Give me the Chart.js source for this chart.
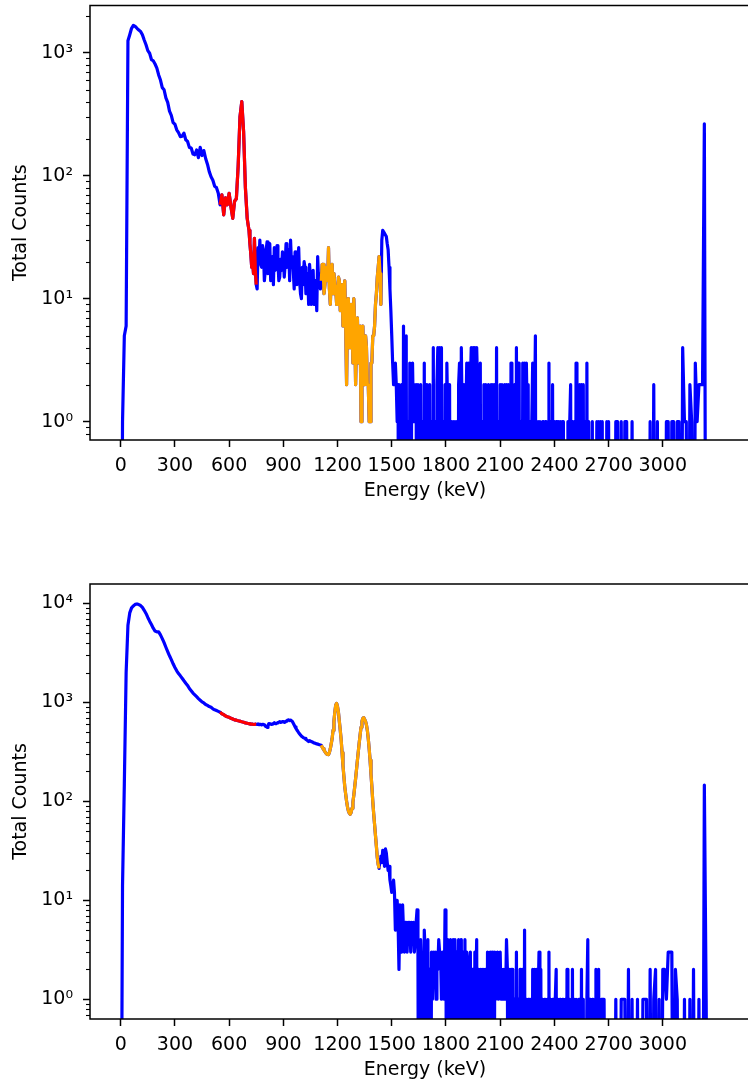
<!DOCTYPE html>
<html>
<head>
<meta charset="utf-8">
<script src="https://cdn.jsdelivr.net/npm/chart.js@4.4.1/dist/chart.umd.min.js"></script>
<style>
  html, body { margin: 0; padding: 0; background: #fff; overflow: hidden; }
  body { width: 748px; height: 1083px; position: relative; }
  canvas { position: absolute; left: 0; }
  #spectrumUpper { top: 0; }
  #spectrumLower { top: 540px; }
</style>
</head>
<body>
<canvas id="spectrumUpper" width="760" height="540"></canvas>
<canvas id="spectrumLower" width="760" height="543"></canvas>
<script>
// Energy bin centres (keV), shared by both spectra: 10 keV below 700, 5 keV up to 2700, 10 keV above
const energyKeV = [
  0, 10, 20, 30, 40, 50, 60, 70, 80, 90,
  100, 110, 120, 130, 140, 150, 160, 170, 180, 190,
  200, 210, 220, 230, 240, 250, 260, 270, 280, 290,
  300, 310, 320, 330, 340, 350, 360, 370, 380, 390,
  400, 410, 420, 430, 440, 450, 460, 470, 480, 490,
  500, 510, 520, 530, 540, 550, 560, 570, 580, 590,
  600, 610, 620, 630, 640, 650, 660, 670, 680, 690,
  700, 705, 710, 715, 720, 725, 730, 735, 740, 745,
  750, 755, 760, 765, 770, 775, 780, 785, 790, 795,
  800, 805, 810, 815, 820, 825, 830, 835, 840, 845,
  850, 855, 860, 865, 870, 875, 880, 885, 890, 895,
  900, 905, 910, 915, 920, 925, 930, 935, 940, 945,
  950, 955, 960, 965, 970, 975, 980, 985, 990, 995,
  1000, 1005, 1010, 1015, 1020, 1025, 1030, 1035, 1040, 1045,
  1050, 1055, 1060, 1065, 1070, 1075, 1080, 1085, 1090, 1095,
  1100, 1105, 1110, 1115, 1120, 1125, 1130, 1135, 1140, 1145,
  1150, 1155, 1160, 1165, 1170, 1175, 1180, 1185, 1190, 1195,
  1200, 1205, 1210, 1215, 1220, 1225, 1230, 1235, 1240, 1245,
  1250, 1255, 1260, 1265, 1270, 1275, 1280, 1285, 1290, 1295,
  1300, 1305, 1310, 1315, 1320, 1325, 1330, 1335, 1340, 1345,
  1350, 1355, 1360, 1365, 1370, 1375, 1380, 1385, 1390, 1395,
  1400, 1405, 1410, 1415, 1420, 1425, 1430, 1435, 1440, 1445,
  1450, 1455, 1460, 1465, 1470, 1475, 1480, 1485, 1490, 1495,
  1500, 1505, 1510, 1515, 1520, 1525, 1530, 1535, 1540, 1545,
  1550, 1555, 1560, 1565, 1570, 1575, 1580, 1585, 1590, 1595,
  1600, 1605, 1610, 1615, 1620, 1625, 1630, 1635, 1640, 1645,
  1650, 1655, 1660, 1665, 1670, 1675, 1680, 1685, 1690, 1695,
  1700, 1705, 1710, 1715, 1720, 1725, 1730, 1735, 1740, 1745,
  1750, 1755, 1760, 1765, 1770, 1775, 1780, 1785, 1790, 1795,
  1800, 1805, 1810, 1815, 1820, 1825, 1830, 1835, 1840, 1845,
  1850, 1855, 1860, 1865, 1870, 1875, 1880, 1885, 1890, 1895,
  1900, 1905, 1910, 1915, 1920, 1925, 1930, 1935, 1940, 1945,
  1950, 1955, 1960, 1965, 1970, 1975, 1980, 1985, 1990, 1995,
  2000, 2005, 2010, 2015, 2020, 2025, 2030, 2035, 2040, 2045,
  2050, 2055, 2060, 2065, 2070, 2075, 2080, 2085, 2090, 2095,
  2100, 2105, 2110, 2115, 2120, 2125, 2130, 2135, 2140, 2145,
  2150, 2155, 2160, 2165, 2170, 2175, 2180, 2185, 2190, 2195,
  2200, 2205, 2210, 2215, 2220, 2225, 2230, 2235, 2240, 2245,
  2250, 2255, 2260, 2265, 2270, 2275, 2280, 2285, 2290, 2295,
  2300, 2305, 2310, 2315, 2320, 2325, 2330, 2335, 2340, 2345,
  2350, 2355, 2360, 2365, 2370, 2375, 2380, 2385, 2390, 2395,
  2400, 2405, 2410, 2415, 2420, 2425, 2430, 2435, 2440, 2445,
  2450, 2455, 2460, 2465, 2470, 2475, 2480, 2485, 2490, 2495,
  2500, 2505, 2510, 2515, 2520, 2525, 2530, 2535, 2540, 2545,
  2550, 2555, 2560, 2565, 2570, 2575, 2580, 2585, 2590, 2595,
  2600, 2605, 2610, 2615, 2620, 2625, 2630, 2635, 2640, 2645,
  2650, 2655, 2660, 2665, 2670, 2675, 2680, 2685, 2690, 2695,
  2700, 2710, 2720, 2730, 2740, 2750, 2760, 2770, 2780, 2790,
  2800, 2810, 2820, 2830, 2840, 2850, 2860, 2870, 2880, 2890,
  2900, 2910, 2920, 2930, 2940, 2950, 2960, 2970, 2980, 2990,
  3000, 3010, 3020, 3030, 3040, 3050, 3060, 3070, 3080, 3090,
  3100, 3110, 3120, 3130, 3140, 3150, 3160, 3170, 3180, 3190,
  3200, 3210, 3220, 3230, 3240, 3250
];

// Total counts per bin, upper spectrum
const countsUpper = [
  0, 1, 5, 6, 1250, 1400, 1580, 1670, 1640, 1580,
  1530, 1490, 1400, 1270, 1160, 1040, 990, 880, 860, 810,
  750, 660, 600, 520, 500, 430, 395, 335, 310, 270,
  262, 236, 224, 208, 210, 222, 196, 190, 170, 168,
  150, 148, 162, 140, 170, 146, 160, 138, 124, 108,
  98, 92, 82, 80, 72, 58, 70, 48, 66, 58,
  72, 56, 45, 62, 65, 120, 300, 400, 230, 80,
  45, 40, 36, 28, 23, 18, 20, 16, 31, 17,
  13, 12, 26, 20, 30, 19, 18, 27, 24, 14,
  17, 25, 29, 16, 20, 28, 14, 19, 22, 13,
  26, 17, 18, 27, 20, 14, 15, 21, 17, 24,
  23, 15, 19, 28, 18, 22, 25, 14, 30, 19,
  22, 17, 12, 24, 16, 13, 19, 26, 14, 11,
  10, 18, 13, 20, 18, 11, 12, 16, 9, 19,
  15, 9, 11, 17, 9, 13, 14, 8, 22, 14,
  16, 12, 14, 19, 19, 11, 13, 17, 18, 14,
  26, 12, 9, 15, 19, 11, 16, 13, 12, 9,
  9, 15, 14, 8, 10, 13, 6, 11, 14, 6,
  2, 8, 10, 4, 4, 9, 7, 3, 10, 6,
  2, 5, 7, 3, 4, 6, 1, 5, 6, 3,
  2, 5, 4, 2, 2, 1, 1, 3, 3, 5,
  5, 6, 9, 11, 15, 18, 22, 16, 9, 30,
  36, 35, 34, 33, 32, 28, 25, 18, 12, 8,
  5, 3, 2, 2, 3, 2, 1, 2, 0, 1,
  0, 2, 0, 6, 0, 1, 5, 0, 1, 0,
  3, 0, 2, 3, 1, 2, 1, 2, 0, 2,
  0, 1, 2, 0, 1, 0, 3, 0, 2, 0,
  1, 0, 2, 0, 1, 0, 4, 0, 1, 0,
  2, 4, 0, 4, 1, 4, 0, 1, 0, 2,
  0, 3, 1, 0, 2, 0, 1, 0, 1, 0,
  1, 0, 1, 0, 2, 3, 0, 4, 1, 0,
  2, 0, 1, 3, 0, 3, 0, 2, 4, 0,
  4, 1, 4, 0, 4, 2, 0, 1, 3, 0,
  1, 0, 2, 0, 2, 1, 0, 2, 0, 1,
  2, 0, 2, 0, 2, 0, 4, 0, 1, 0,
  2, 0, 2, 1, 0, 2, 0, 2, 0, 2,
  1, 0, 3, 0, 1, 0, 2, 0, 4, 0,
  3, 3, 0, 1, 0, 3, 1, 3, 0, 3,
  1, 2, 0, 1, 0, 1, 3, 0, 1, 5,
  0, 0, 1, 0, 1, 0, 0, 1, 1, 0,
  1, 1, 0, 0, 3, 0, 1, 0, 2, 0,
  1, 0, 1, 1, 0, 1, 0, 1, 0, 1,
  1, 0, 0, 0, 0, 1, 0, 1, 2, 0,
  1, 0, 1, 0, 3, 0, 1, 0, 2, 1,
  2, 0, 2, 0, 1, 0, 3, 0, 1, 0,
  0, 0, 1, 0, 0, 0, 0, 1, 0, 1,
  0, 1, 0, 1, 0, 0, 0, 0, 1, 0,
  1, 0, 0, 0, 1, 1, 0, 1, 0, 1,
  1, 0, 0, 1, 0, 0, 0, 0, 0, 0,
  0, 0, 0, 1, 0, 2, 0, 1, 0, 0,
  0, 0, 1, 1, 0, 1, 1, 0, 1, 1,
  0, 4, 1, 1, 0, 2, 1, 0, 3, 1,
  2, 2, 2, 264, 0, 0
];

// Total counts per bin, lower spectrum
const countsLower = [
  0, 14, 150, 2000, 6000, 8000, 9000, 9400, 9750, 9850,
  9700, 9500, 9100, 8500, 7900, 7200, 6600, 6100, 5600, 5250,
  5150, 5150, 4800, 4400, 4000, 3600, 3250, 2950, 2700, 2450,
  2250, 2080, 1950, 1850, 1750, 1650, 1560, 1480, 1380, 1310,
  1240, 1190, 1140, 1090, 1050, 1010, 985, 950, 930, 905,
  890, 860, 840, 825, 810, 795, 765, 750, 728, 715,
  705, 690, 678, 665, 660, 652, 645, 635, 628, 620,
  614, 611, 608, 604, 600, 603, 602, 597, 598, 601,
  600, 598, 604, 596, 596, 600, 590, 598, 598, 594,
  575, 568, 558, 585, 610, 602, 605, 598, 600, 612,
  622, 610, 608, 618, 625, 630, 637, 628, 630, 640,
  640, 628, 630, 645, 650, 662, 665, 652, 660, 650,
  640, 615, 590, 565, 545, 525, 510, 492, 480, 468,
  455, 448, 440, 436, 432, 422, 415, 408, 402, 410,
  405, 400, 398, 392, 388, 386, 382, 380, 378, 376,
  372, 370, 368, 352, 340, 328, 318, 308, 300, 297,
  296, 312, 340, 380, 430, 520, 640, 800, 940, 975,
  900, 790, 640, 520, 420, 310, 230, 180, 140, 118,
  100, 88, 80, 76, 74, 77, 85, 98, 115, 140,
  170, 210, 260, 320, 390, 470, 560, 640, 690, 700,
  670, 640, 590, 520, 430, 340, 260, 190, 140, 100,
  75, 58, 45, 35, 27, 23, 21, 26, 28, 24,
  32, 30, 22, 33, 30, 24, 20, 22, 16, 14,
  12, 13, 16, 12, 5, 10, 10, 6, 2, 9,
  6, 3, 9, 5, 3, 6, 6, 3, 6, 4,
  6, 3, 6, 4, 6, 3, 4, 6, 8, 3,
  0, 1, 4, 2, 1, 0, 5, 3, 0, 2,
  4, 0, 2, 0, 3, 1, 3, 2, 3, 1,
  3, 2, 4, 3, 3, 1, 3, 2, 1, 8,
  4, 0, 4, 1, 0, 4, 0, 2, 4, 0,
  4, 1, 3, 0, 4, 0, 3, 4, 0, 3,
  1, 4, 0, 3, 2, 0, 2, 3, 0, 2,
  2, 0, 3, 1, 4, 0, 2, 0, 2, 1,
  2, 0, 2, 1, 2, 0, 3, 0, 2, 3,
  0, 3, 2, 0, 3, 1, 2, 3, 1, 2,
  3, 1, 2, 1, 2, 1, 1, 4, 2, 0,
  2, 0, 2, 1, 2, 0, 1, 0, 3, 0,
  1, 0, 2, 0, 1, 2, 0, 5, 0, 1,
  0, 1, 1, 0, 1, 0, 2, 0, 2, 1,
  2, 0, 1, 3, 0, 2, 0, 1, 0, 1,
  1, 0, 1, 0, 3, 0, 1, 0, 1, 1,
  0, 1, 2, 0, 1, 0, 1, 1, 0, 1,
  1, 0, 1, 0, 2, 0, 1, 1, 0, 0,
  2, 0, 1, 0, 1, 1, 0, 1, 1, 0,
  2, 0, 1, 0, 0, 0, 1, 4, 0, 1,
  1, 0, 1, 1, 0, 0, 2, 0, 1, 2,
  0, 0, 1, 1, 1, 1, 1, 0, 0, 0,
  0, 0, 0, 0, 1, 0, 0, 1, 1, 1,
  0, 2, 0, 1, 0, 0, 1, 0, 0, 1,
  1, 1, 0, 2, 0, 1, 2, 0, 1, 0,
  2, 2, 1, 3, 3, 3, 0, 2, 1, 0,
  0, 0, 1, 0, 0, 1, 0, 2, 0, 0,
  1, 0, 0, 146, 1, 0
];

// Energy windows drawn over the full spectrum (keV, inclusive)
const redWindowUpper = [550, 750];
const orangeWindowUpper = [1110, 1440];
const redWindowLower = [550, 750];
const orangeWindowLower = [1110, 1430];

const energyTicks = [0, 300, 600, 900, 1200, 1500, 1800, 2100, 2400, 2700, 3000];

// empty bins fall below the bottom of the log axis and get clipped
const EMPTY_BIN = 1e-3;

const FONT = { family: 'DejaVu Sans', size: 19 };
Chart.defaults.font.family = FONT.family;
Chart.defaults.font.size = FONT.size;
Chart.defaults.color = '#000';

const SUP = { '-': '\u207B', '0': '\u2070', '1': '\u00B9', '2': '\u00B2', '3': '\u00B3',
  '4': '\u2074', '5': '\u2075', '6': '\u2076', '7': '\u2077', '8': '\u2078', '9': '\u2079' };

function isDecade(v) {
  const l = Math.log10(v);
  return Math.abs(l - Math.round(l)) < 1e-9;
}

function decadeLabel(v) {
  const p = String(Math.round(Math.log10(v)));
  return '10' + p.split('').map(c => SUP[c]).join('');
}

// 1..9 x 10^n inside the axis range
function logTicks(min, max) {
  const ticks = [];
  for (let p = Math.floor(Math.log10(min)); p <= Math.ceil(Math.log10(max)); p++) {
    for (let m = 1; m <= 9; m++) {
      const v = m * Math.pow(10, p);
      if (v >= min && v <= max) ticks.push({ value: v });
    }
  }
  return ticks;
}

function toPoints(counts, window) {
  const pts = [];
  energyKeV.forEach((e, i) => {
    if (window && (e < window[0] || e > window[1])) return;
    pts.push({ x: e, y: counts[i] > 0 ? counts[i] : EMPTY_BIN });
  });
  return pts;
}

// matplotlib-style box round the plot area
const axesFrame = {
  id: 'axesFrame',
  afterDatasetsDraw(chart) {
    const { ctx, chartArea: a } = chart;
    ctx.save();
    ctx.strokeStyle = '#000';
    ctx.lineWidth = 1.5;
    ctx.strokeRect(a.left, a.top, a.right - a.left, a.bottom - a.top);
    ctx.restore();
  }
};

// short ticks at 2..9 x 10^n on the log axis
const minorTicks = {
  id: 'minorTicks',
  afterDraw(chart) {
    const { ctx, chartArea } = chart;
    const y = chart.scales.y;
    ctx.save();
    ctx.strokeStyle = '#000';
    ctx.lineWidth = 1.1;
    y.ticks.forEach(t => {
      if (isDecade(t.value)) return;
      const py = Math.round(y.getPixelForValue(t.value)) + 0.5;
      ctx.beginPath();
      ctx.moveTo(chartArea.left - 4, py);
      ctx.lineTo(chartArea.left, py);
      ctx.stroke();
    });
    ctx.restore();
  }
};

function drawSpectrum(canvasId, counts, redWindow, orangeWindow, yMin, yMax, padTop, padBottom) {
  const ctx = document.getElementById(canvasId).getContext('2d');
  return new Chart(ctx, {
    type: 'line',
    data: {
      datasets: [
        { data: toPoints(counts, orangeWindow), borderColor: '#ffa500' },
        { data: toPoints(counts, redWindow), borderColor: '#ff0000' },
        { data: toPoints(counts), borderColor: '#0000ff' }
      ]
    },
    options: {
      responsive: false,
      animation: false,
      events: [],
      layout: { padding: { top: padTop, bottom: padBottom, left: 0, right: 0 } },
      elements: {
        point: { radius: 0 },
        line: { borderWidth: 3.2, tension: 0, borderJoinStyle: 'round', fill: false }
      },
      datasets: { line: { clip: 0 } },
      plugins: { legend: { display: false }, tooltip: { enabled: false } },
      scales: {
        x: {
          type: 'linear',
          min: -170,
          max: 3538,
          bounds: 'data',
          z: 1,
          afterBuildTicks: s => { s.ticks = energyTicks.map(v => ({ value: v })); },
          afterFit: s => { s.height = 62; s.paddingLeft = 0; s.paddingRight = 0; },
          grid: { drawOnChartArea: false, tickLength: 7, tickWidth: 1.5, tickColor: '#000' },
          border: { display: false },
          ticks: { autoSkip: false, maxRotation: 0, padding: 8, color: '#000', font: FONT,
                   callback: v => String(v) },
          title: { display: true, text: 'Energy (keV)', color: '#000', font: FONT,
                   padding: { top: 0, bottom: 0 } }
        },
        y: {
          type: 'logarithmic',
          min: yMin,
          max: yMax,
          bounds: 'data',
          z: 1,
          afterBuildTicks: s => { s.ticks = logTicks(yMin, yMax); },
          afterFit: s => { s.width = 90; s.paddingTop = 0; s.paddingBottom = 0; },
          grid: {
            drawOnChartArea: false, tickLength: 7, tickWidth: 1.5,
            tickColor: c => (c.tick && isDecade(c.tick.value)) ? '#000' : 'rgba(0,0,0,0)'
          },
          border: { display: false },
          ticks: { autoSkip: false, padding: 10, color: '#000', font: FONT,
                   callback: v => isDecade(v) ? decadeLabel(v) : '' },
          title: { display: true, text: 'Total Counts', color: '#000', font: FONT,
                   padding: { top: 10, bottom: 0 } }
        }
      }
    },
    plugins: [axesFrame, minorTicks]
  });
}

drawSpectrum('spectrumUpper', countsUpper, redWindowUpper, orangeWindowUpper, 0.71, 2421, 5.5, 38);
drawSpectrum('spectrumLower', countsLower, redWindowLower, orangeWindowLower, 0.632, 15670, 44, 2);
</script>
</body>
</html>
